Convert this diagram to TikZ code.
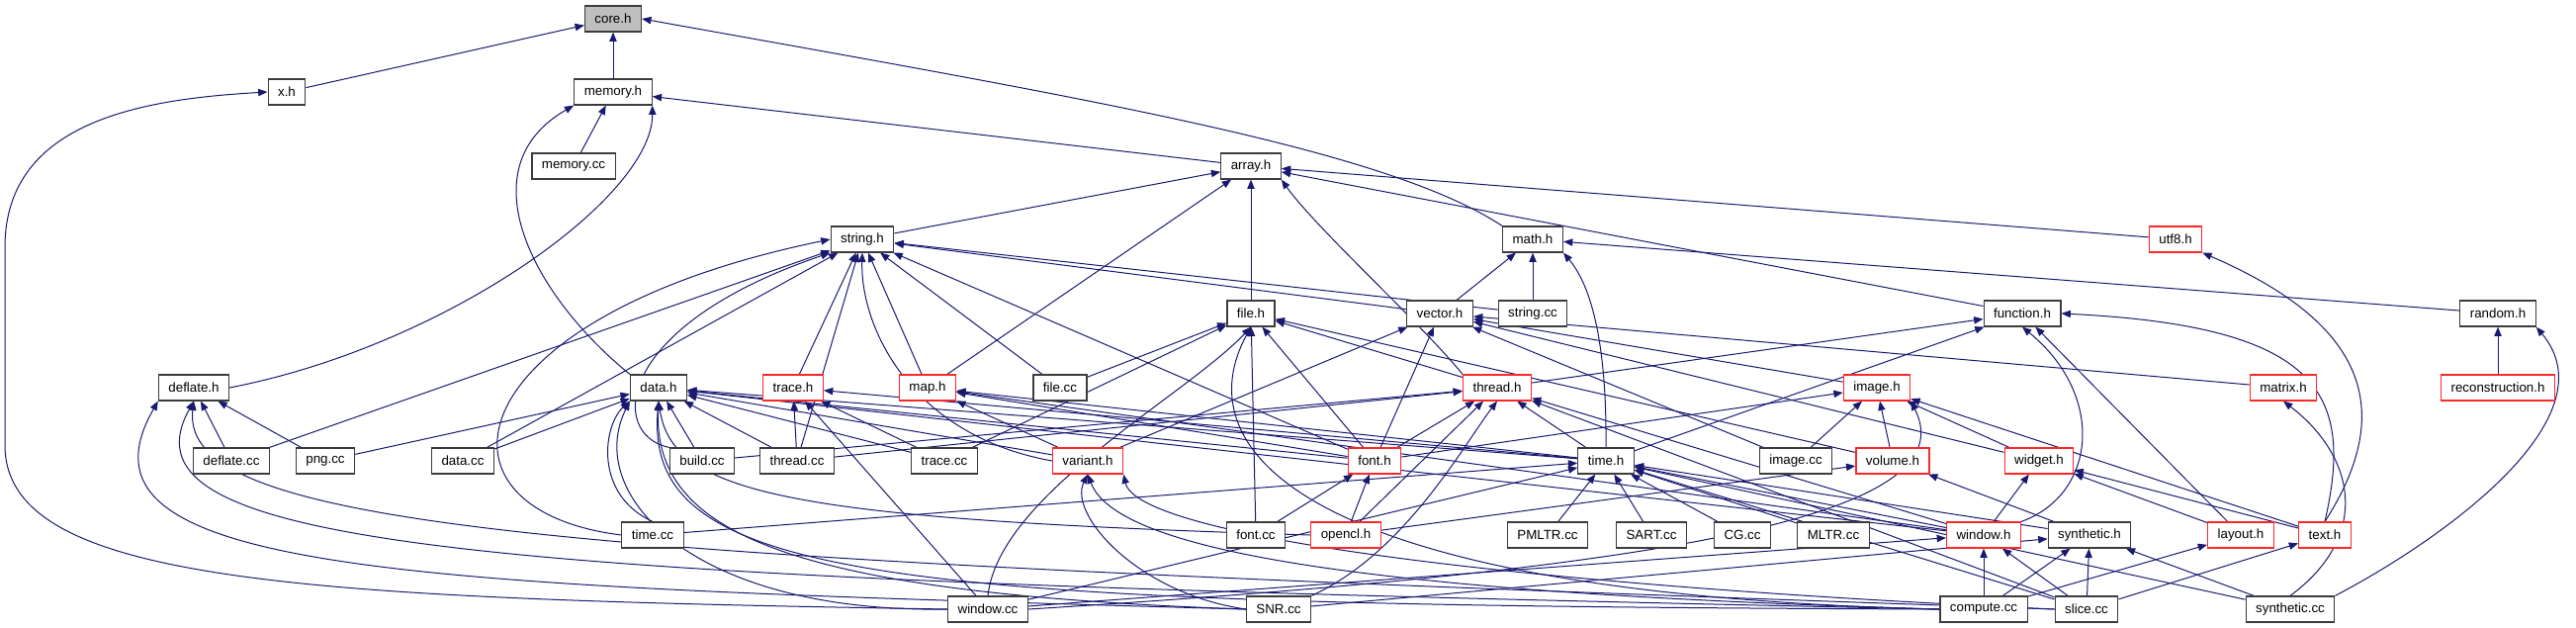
\documentclass[tikz,border=0pt]{standalone}
\usepackage{fontspec}
\setmainfont{Liberation Sans}
\usetikzlibrary{arrows.meta,backgrounds}
\definecolor{edgeblue}{RGB}{25,25,112}
\definecolor{boxgray}{RGB}{60,60,60}
\definecolor{rootgray}{RGB}{191,191,191}
\definecolor{truncred}{RGB}{255,40,40}

\begin{document}
\begin{tikzpicture}[x=0.75pt, y=-0.75pt,
    file/.style={draw=boxgray, line width=0.9pt, fill=white, minimum height=19.5pt,
                 inner xsep=7.5pt, inner ysep=0pt, font=\fontsize{10}{12}\selectfont},
    trunc/.style={file, draw=truncred},
    root/.style={file, fill=rootgray},
    dep/.style={draw=edgeblue, line width=0.75pt, -{Triangle[length=7pt,width=5.5pt]}}]
  \useasboundingbox (0,0) rectangle (2605,635);

  % row 0 - 3
  \node[root]  (coreh)     at (620,19)  {core.h};
  \node[file]  (xh)        at (290,93)  {x.h};
  \node[file]  (memoryh)   at (620,93)  {memory.h};
  \node[file]  (memorycc)  at (580,168) {memory.cc};
  \node[file]  (arrayh)    at (1265,168) {array.h};
  \node[file]  (stringh)   at (872,242) {string.h};
  \node[file]  (mathh)     at (1550,242) {math.h};
  \node[trunc] (utf8h)     at (2200,242) {utf8.h};

  % row 4 - 5
  \node[file]  (fileh)     at (1265,317) {file.h};
  \node[file]  (vectorh)   at (1456,317) {vector.h};
  \node[file]  (stringcc)  at (1550,317) {string.cc};
  \node[file]  (functionh) at (2045,317) {function.h};
  \node[file]  (randomh)   at (2526,317) {random.h};
  \node[file]  (deflateh)  at (196,392) {deflate.h};
  \node[file]  (datah)     at (666,392) {data.h};
  \node[trunc] (traceh)    at (802,392) {trace.h};
  \node[trunc] (maph)      at (938,392) {map.h};
  \node[file]  (filecc)    at (1072,392) {file.cc};
  \node[trunc] (threadh)   at (1514,392) {thread.h};
  \node[trunc] (imageh)    at (1898,392) {image.h};
  \node[trunc] (matrixh)   at (2309,392) {matrix.h};
  \node[trunc] (reconh)    at (2526,392) {reconstruction.h};

  % row 6
  \node[file]  (deflatecc) at (234,466) {deflate.cc};
  \node[file]  (pngcc)     at (329,466) {png.cc};
  \node[file]  (datacc)    at (468,466) {data.cc};
  \node[file]  (buildcc)   at (710,466) {build.cc};
  \node[file]  (threadcc)  at (806,466) {thread.cc};
  \node[file]  (tracecc)   at (955,466) {trace.cc};
  \node[trunc] (varianth)  at (1100,466) {variant.h};
  \node[trunc] (fonth)     at (1390,466) {font.h};
  \node[file]  (timeh)     at (1624,466) {time.h};
  \node[file]  (imagecc)   at (1816,466) {image.cc};
  \node[trunc] (volumeh)   at (1914,466) {volume.h};
  \node[trunc] (widgeth)   at (2062,466) {widget.h};

  % row 7
  \node[file]  (timecc)    at (660,541) {time.cc};
  \node[file]  (fontcc)    at (1270,541) {font.cc};
  \node[trunc] (openclh)   at (1361,541) {opencl.h};
  \node[file]  (pmltrcc)   at (1565,541) {PMLTR.cc};
  \node[file]  (sartcc)    at (1670,541) {SART.cc};
  \node[file]  (cgcc)      at (1762,541) {CG.cc};
  \node[file]  (mltrcc)    at (1854,541) {MLTR.cc};
  \node[trunc] (windowh)   at (2006,541) {window.h};
  \node[file]  (synthetich) at (2113,541) {synthetic.h};
  \node[trunc] (layouth)   at (2266,541) {layout.h};
  \node[trunc] (texth)     at (2351,541) {text.h};

  % row 8
  \node[file]  (windowcc)  at (999,616) {window.cc};
  \node[file]  (snrcc)     at (1293,616) {SNR.cc};
  \node[file]  (computecc) at (2006,616) {compute.cc};
  \node[file]  (slicecc)   at (2110,616) {slice.cc};
  \node[file]  (syntheticcc) at (2316,616) {synthetic.cc};

  \begin{scope}[on background layer]
    % straight includes
    \foreach \a/\b in {xh/coreh, memoryh/coreh,
        memorycc/memoryh, arrayh/memoryh,
        stringh/arrayh, maph/arrayh, fileh/arrayh, utf8h/arrayh, functionh/arrayh,
        vectorh/mathh, stringcc/mathh, randomh/mathh, reconh/randomh,
        deflatecc/stringh, datacc/stringh, threadcc/stringh, traceh/stringh, maph/stringh,
        filecc/stringh, stringcc/stringh, vectorh/stringh, fonth/stringh,
        deflatecc/deflateh, pngcc/deflateh,
        pngcc/datah, datacc/datah, buildcc/datah, threadcc/datah, tracecc/datah, varianth/datah,
        timeh/datah, windowh/datah, fonth/datah,
        threadcc/traceh, tracecc/traceh, windowcc/traceh, timeh/traceh,
        varianth/maph, fonth/maph, timeh/maph, windowh/maph,
        filecc/fileh, tracecc/fileh, fontcc/fileh, fonth/fileh, threadh/fileh, volumeh/fileh,
        varianth/vectorh, fonth/vectorh, imageh/vectorh, imagecc/vectorh, matrixh/vectorh, widgeth/vectorh,
        buildcc/threadh, threadcc/threadh, fonth/threadh, openclh/threadh, timeh/threadh,
        windowh/threadh, slicecc/threadh,
        threadh/functionh, timeh/functionh, layouth/functionh,
        imagecc/imageh, volumeh/imageh, fonth/imageh, widgeth/imageh, texth/imageh,
        openclh/volumeh, synthetich/volumeh,
        windowh/widgeth, layouth/widgeth, texth/widgeth,
        fontcc/fonth, openclh/fonth,
        pmltrcc/timeh, sartcc/timeh, cgcc/timeh, mltrcc/timeh, timecc/timeh, windowcc/timeh,
        windowh/timeh, synthetich/timeh, slicecc/timeh, syntheticcc/timeh,
        computecc/windowh, slicecc/windowh, windowcc/windowh,
        computecc/synthetich, slicecc/synthetich, syntheticcc/synthetich, snrcc/synthetich,
        computecc/layouth, slicecc/texth}
      \draw[dep] (\a) -- (\b);

    % bent includes
    \draw[dep] (mathh.north west) .. controls (1400,150) and (1100,100) .. (coreh.east);
    \draw[dep] (threadh.north west) .. controls (1440,330) and (1330,230) .. (arrayh.south east);
    \draw[dep] (datah.north west) .. controls (540,300) and (470,170) .. (memoryh.south west);
    \draw[dep] (deflateh.east) .. controls (450,350) and (660,200) .. (memoryh.south east);
    \draw[dep] (windowcc.west) .. controls (300,605) and (5,590) .. (5,450) -- (5,250)
               .. controls (5,120) and (150,100) .. (xh.west);
    \draw[dep] (timeh.north) .. controls (1625,350) and (1610,290) .. (mathh.south east);
    \draw[dep] (syntheticcc.north east) .. controls (2480,540) and (2640,420) .. (randomh.south east);
    \draw[dep] (syntheticcc.north) .. controls (2400,540) and (2380,460) .. (matrixh.south);
    \draw[dep] (texth.north) .. controls (2420,420) and (2400,330) .. (utf8h.south east);
    \draw[dep] (texth.north) .. controls (2380,400) and (2350,330) .. (functionh.east);
    \draw[dep] (windowh.north east) .. controls (2120,500) and (2130,400) .. (functionh.south);
    \draw[dep] (timecc.west) .. controls (420,515) and (460,320) .. (stringh.west);
    \draw[dep] (buildcc.north west) .. controls (615,440) and (620,330) .. (stringh.south west);
    \draw[dep] (varianth.west) .. controls (920,440) and (870,330) .. (stringh.south);
    \draw[dep] (timecc.north) .. controls (600,500) and (610,430) .. (datah.south west);
    \draw[dep] (windowcc.west) .. controls (700,620) and (590,500) .. (datah.south west);
    \draw[dep] (computecc.west) .. controls (900,612) and (650,590) .. (datah.south);
    \draw[dep] (snrcc.west) .. controls (800,600) and (660,540) .. (datah.south);
    \draw[dep] (openclh.west) .. controls (800,525) and (680,500) .. (datah.south);
    \draw[dep] (snrcc.west) .. controls (400,592) and (60,580) .. (deflateh.south west);
    \draw[dep] (computecc.west) .. controls (500,585) and (110,560) .. (deflateh.south);
    \draw[dep] (slicecc.west) .. controls (600,565) and (180,540) .. (deflateh.south);
    \draw[dep] (windowcc.north) .. controls (1010,500) and (1200,400) .. (fileh.south);
    \draw[dep] (computecc.west) .. controls (1300,600) and (1200,450) .. (fileh.south);
    \draw[dep] (snrcc.north east) .. controls (1420,560) and (1480,450) .. (threadh.south);
    \draw[dep] (snrcc.west) .. controls (1150,600) and (1080,520) .. (varianth.south);
    \draw[dep] (computecc.west) .. controls (1400,600) and (1130,560) .. (varianth.south);
    \draw[dep] (slicecc.west) .. controls (1500,590) and (1150,540) .. (varianth.south east);
    \draw[dep] (windowcc.east) .. controls (1700,575) and (1990,520) .. (imageh.south east);
  \end{scope}
\end{tikzpicture}
\end{document}
